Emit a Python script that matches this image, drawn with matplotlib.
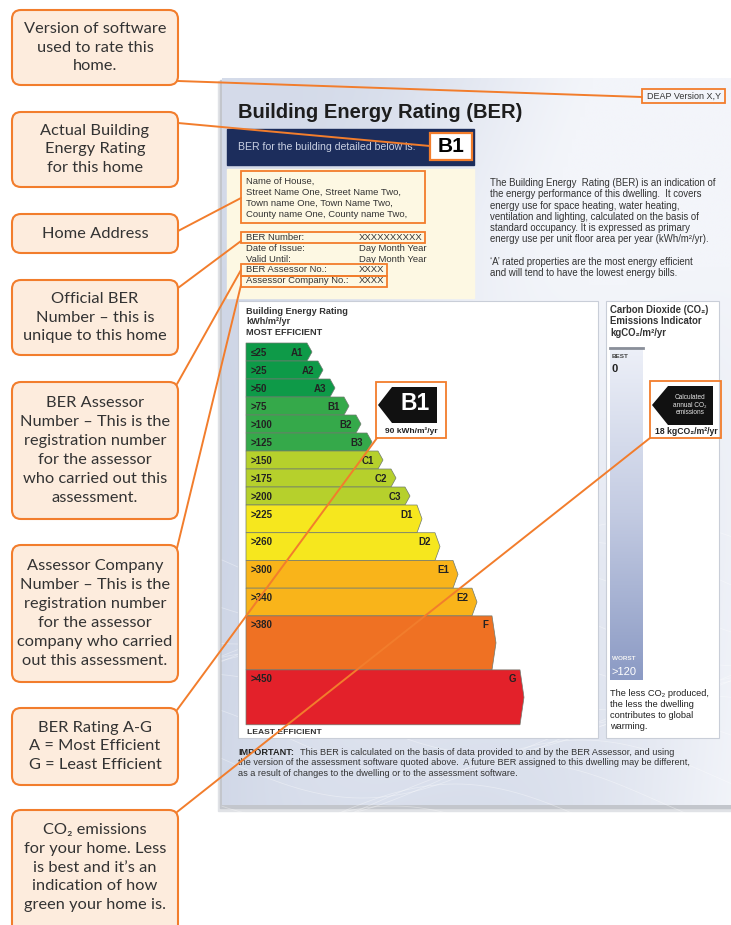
import matplotlib
matplotlib.use("Agg")
import matplotlib.pyplot as plt
import numpy as np
from matplotlib.patches import Rectangle, FancyBboxPatch, Polygon
from matplotlib.colors import LinearSegmentedColormap, to_rgb

# ---- content ----
callout_texts = [
    "Version of software\nused to rate this\nhome.",
    "Actual Building\nEnergy Rating\nfor this home",
    "Home Address",
    "Official BER\nNumber \u2013 this is\nunique to this home",
    "BER Assessor\nNumber \u2013 This is the\nregistration number\nfor the assessor\nwho carried out this\nassessment.",
    "Assessor Company\nNumber \u2013 This is the\nregistration number\nfor the assessor\ncompany who carried\nout this assessment.",
    "BER Rating A-G\nA = Most Efficient\nG = Least Efficient",
    "CO\u2082 emissions\nfor your home. Less\nis best and it\u2019s an\nindication of how\ngreen your home is.",
]

band_names = ["A1", "A2", "A3", "B1", "B2", "B3", "C1", "C2", "C3",
              "D1", "D2", "E1", "E2", "F", "G"]
band_floor = ["\u226425", ">25", ">50", ">75", ">100", ">125", ">150", ">175",
              ">200", ">225", ">260", ">300", ">340", ">380", ">450"]
# bar lengths (px from the left edge of the bars)
band_length = [61, 72, 84, 98, 110, 121, 132, 145, 159, 171, 189, 207, 226, 246, 274]
band_rows = [1, 1, 1, 1, 1, 1, 1, 1, 1, 1.54, 1.54, 1.54, 1.54, 3, 3.05]
band_colors = ["#0e9a48", "#0e9a48", "#0e9a48", "#35a94a", "#35a94a", "#35a94a",
               "#b6d02c", "#b6d02c", "#b6d02c", "#f6e71e", "#f6e71e",
               "#f9b41a", "#f9b41a", "#ef7123", "#e3212a"]

ber_rating = "B1"
ber_value = 90
co2_value = 18

address = ["Name of House,", "Street Name One, Street Name Two,",
           "Town name One, Town Name Two,", "County name One, County name Two,"]
details = [("BER Number:", "XXXXXXXXXX"), ("Date of Issue:", "Day Month Year"),
           ("Valid Until:", "Day Month Year"), ("BER Assessor No.:", "XXXX"),
           ("Assessor Company No.:", "XXXX")]
description = [
    "The Building Energy  Rating (BER) is an indication of",
    "the energy performance of this dwelling.  It covers",
    "energy use for space heating, water heating,",
    "ventilation and lighting, calculated on the basis of",
    "standard occupancy. It is expressed as primary",
    "energy use per unit floor area per year (kWh/m\u00b2/yr).",
    "",
    "\u2018A\u2019 rated properties are the most energy efficient",
    "and will tend to have the lowest energy bills.",
]
important = [
    "This BER is calculated on the basis of data provided to and by the BER Assessor, and using",
    "the version of the assessment software quoted above.  A future BER assigned to this dwelling may be different,",
    "as a result of changes to the dwelling or to the assessment software.",
]

ORANGE = "#f27d2c"
DOC = ["Liberation Sans", "DejaVu Sans"]
CALL = ["Lato", "DejaVu Sans"]

fig = plt.figure(figsize=(7.31, 9.25), dpi=100)
ax = fig.add_axes([0, 0, 1, 1])

# ---- page with soft blue gradient ----
ax.add_patch(Rectangle((218, 81), 515, 730, color="#e0e2e6", zorder=0))
ax.add_patch(Rectangle((220, 80), 513, 728, color="#c3c6cc", zorder=0.5))
gx, gy = np.meshgrid(np.linspace(0, 1, 120), np.linspace(0, 1, 160))
t = np.clip(0.6 * (1 - gx) + 0.25 * np.abs(gy - 0.2) + 0.12 * np.sin(6 * gx + 4 * gy) - 0.1, 0, 1)
c0, c1 = np.array(to_rgb("#f3f5fa")), np.array(to_rgb("#bcc6dc"))
bg = c0[None, None, :] * (1 - t[..., None]) + c1[None, None, :] * t[..., None]
ax.imshow(bg, extent=(222, 731, 805, 78), aspect="auto", interpolation="bilinear", zorder=1)
for k in range(14):
    xs = np.linspace(222, 731, 200)
    ys = 560 + 22 * k + 40 * np.sin((xs - 222) / 90 + k * 0.7)
    ax.plot(xs, ys, color="white", lw=0.6, alpha=0.35, zorder=1.5)

# title and version
ax.text(238, 112, "Building Energy Rating (BER)", fontsize=14.5, fontweight="bold",
        family=DOC, color="#1d1d1d", va="center", zorder=3)
ax.add_patch(Rectangle((642, 89), 83, 14, fc="none", ec=ORANGE, lw=1.3, zorder=4))
ax.text(684, 96.5, "DEAP Version X,Y", fontsize=6.5, family=DOC, color="#333",
        ha="center", va="center", zorder=4)

# banner
ax.add_patch(Rectangle((227, 129), 247, 36, color="#1c2d5c", zorder=2))
ax.text(238, 147, "BER for the building detailed below is:", fontsize=7.6, family=DOC,
        color="#c9d0e2", va="center", zorder=3)
ax.add_patch(Rectangle((430, 133), 42, 27, fc="white", ec=ORANGE, lw=1.6, zorder=3))
ax.text(451, 147, ber_rating, fontsize=15, fontweight="bold", family=DOC, color="black",
        ha="center", va="center", zorder=4)

# cream address block
ax.add_patch(Rectangle((227, 169), 247, 129, color="#fdf8e3", zorder=2))
ax.add_patch(Rectangle((241, 171), 184, 52, fc="none", ec=ORANGE, lw=1.3, zorder=4))
for i, line in enumerate(address):
    ax.text(246, 181 + 11.3 * i, line, fontsize=6.8, family=DOC, color="#333",
            va="center", zorder=3)
for i, (k, v) in enumerate(details):
    ax.text(246, 237.5 + 10.8 * i, k, fontsize=6.8, family=DOC, color="#333",
            va="center", zorder=3)
    ax.text(359, 237.5 + 10.8 * i, v, fontsize=6.8, family=DOC, color="#333",
            va="center", zorder=3)
ax.add_patch(Rectangle((241, 232), 184, 11, fc="none", ec=ORANGE, lw=1.3, zorder=4))
ax.add_patch(Rectangle((241, 264), 146, 12, fc="none", ec=ORANGE, lw=1.3, zorder=4))
ax.add_patch(Rectangle((241, 276), 146, 11, fc="none", ec=ORANGE, lw=1.3, zorder=4))

for i, line in enumerate(description):
    ax.text(490, 183 + 11.3 * i, line, fontsize=6.9, family=DOC, color="#333",
            va="center", zorder=3)

# ---- rating panel ----
ax.add_patch(Rectangle((238, 301), 360, 437, fc="white", ec="#c9ced8", lw=0.8, zorder=2))
for i, line in enumerate(["Building Energy Rating", "kWh/m\u00b2/yr", "MOST EFFICIENT"]):
    ax.text(246, 311.5 + 10.5 * i, line, fontsize=6.6, fontweight="bold", family=DOC,
            color="#333", va="center", zorder=3)

x0 = 246
top = 343.0
unit = 18.0
for name, floor, length, rows, col in zip(band_names, band_floor, band_length,
                                          band_rows, band_colors):
    h = rows * unit
    right = x0 + length
    tip = 5 if rows < 2 else 4
    poly = Polygon([(x0, top), (right, top), (right + tip, top + h / 2),
                    (right, top + h), (x0, top + h)], closed=True,
                   fc=col, ec="#6f7a6f", lw=0.5, zorder=3)
    ax.add_patch(poly)
    ax.text(x0 + 5, top + 9.5, floor, fontsize=7, fontweight="bold", family=DOC,
            color="#222", va="center", zorder=4)
    ax.text(right - 4, top + 9.5, name, fontsize=7, fontweight="bold", family=DOC,
            color="#222", va="center", ha="right", zorder=4)
    top += h

ax.text(247, 733, "LEAST EFFICIENT", fontsize=6.1, fontweight="bold", family=DOC,
        color="#333", va="center", zorder=3)

# current rating marker
ax.add_patch(Polygon([(378, 405), (392, 387), (437, 387), (437, 423), (392, 423)],
                     closed=True, fc="#111", zorder=4))
ax.text(415, 404, ber_rating, fontsize=16.5, fontweight="bold", family=DOC, color="white",
        ha="center", va="center", zorder=5)
ax.text(411, 431.5, f"{ber_value} kWh/m\u00b2/yr", fontsize=6.0, fontweight="bold",
        family=DOC, color="#222", ha="center", va="center", zorder=5)
ax.add_patch(Rectangle((376, 382), 70, 56, fc="none", ec=ORANGE, lw=1.3, zorder=5))

# ---- CO2 panel ----
ax.add_patch(Rectangle((606, 301), 113, 437, fc="white", ec="#c9ced8", lw=0.8, zorder=2))
for i, line in enumerate(["Carbon Dioxide (CO\u2082)", "Emissions Indicator",
                          "kgCO\u2082/m\u00b2/yr"]):
    ax.text(610, 310 + 11.5 * i, line, fontsize=6.9, fontweight="bold", family=DOC,
            color="#333", va="center", zorder=3)
grad = LinearSegmentedColormap.from_list("co2", ["#edf0f8", "#c3cbe2", "#8b9ac4"])
ax.imshow(np.linspace(0, 1, 256)[:, None], cmap=grad, extent=(610, 643, 680, 347),
          aspect="auto", zorder=3)
ax.plot([610, 643], [347.5, 347.5], color="#8a8f99", lw=2, zorder=4)
ax.text(612, 357, "BEST", fontsize=4.6, fontweight="bold", family=DOC, color="#444",
        va="center", zorder=4)
ax.text(612, 368.5, "0", fontsize=8, fontweight="bold", family=DOC, color="#222",
        va="center", zorder=4)
ax.text(612, 659, "WORST", fontsize=4.6, fontweight="bold", family=DOC, color="#f2f2f2",
        va="center", zorder=4)
ax.text(612, 672, ">120", fontsize=8, family=DOC, color="white", va="center", zorder=4)
for i, line in enumerate(["The less CO\u2082 produced,", "the less the dwelling",
                          "contributes to global", "warming."]):
    ax.text(610, 693 + 11.3 * i, line, fontsize=6.7, family=DOC, color="#222",
            va="center", zorder=3)

ax.add_patch(Polygon([(652, 405), (668, 386), (713, 386), (713, 425), (668, 425)],
                     closed=True, fc="#111", zorder=4))
ax.text(690, 405, "Calculated\nannual CO\u2082\nemissions", fontsize=4.7, family=DOC,
        color="#e6e6e6", ha="center", va="center", linespacing=1.05, zorder=5)
ax.text(686, 431.5, f"{co2_value} kgCO\u2082/m\u00b2/yr", fontsize=6.2, fontweight="bold",
        family=DOC, color="#222", ha="center", va="center", zorder=5)
ax.add_patch(Rectangle((650, 381), 71, 57, fc="none", ec=ORANGE, lw=1.3, zorder=5))

# footnote
ax.text(238, 752.5, "IMPORTANT:", fontsize=6.6, fontweight="bold", family=DOC, color="#222",
        va="center", zorder=3)
for i, line in enumerate(important):
    ax.text(300 if i == 0 else 238, 752.5 + 10.3 * i, line, fontsize=6.6, family=DOC,
            color="#333", va="center", zorder=3)

# ---- leader lines ----
leaders = [((178, 81), (642, 97)), ((178, 123), (430, 146)), ((178, 231), (241, 198)),
           ((178, 288), (241, 241)), ((177, 384), (241, 270)), ((177, 548), (241, 285)),
           ((177, 710), (377, 438)), ((177, 812), (650, 438))]
for (a, b) in leaders:
    ax.plot([a[0], b[0]], [a[1], b[1]], color=ORANGE, lw=1.4, zorder=6,
            solid_capstyle="round")

# ---- callout boxes ----
spans = [(10, 85), (112, 187), (214, 253), (280, 355), (382, 519), (545, 682),
         (708, 785), (810, 940)]
for txt, (ya, yb) in zip(callout_texts, spans):
    ax.add_patch(FancyBboxPatch((12, ya), 166, yb - ya,
                                boxstyle="round,pad=0,rounding_size=9",
                                fc="#fdecdd", ec=ORANGE, lw=1.5, zorder=7))
    yc = (ya + min(yb, 925)) / 2
    ax.text(95, yc, txt, fontsize=11.8, family=CALL, color="#333333", ha="center",
            va="center", linespacing=1.45, zorder=8)

ax.set_xlim(0, 731)
ax.set_ylim(925, 0)
ax.axis("off")
fig.savefig("out.png", dpi=100, facecolor="white")
